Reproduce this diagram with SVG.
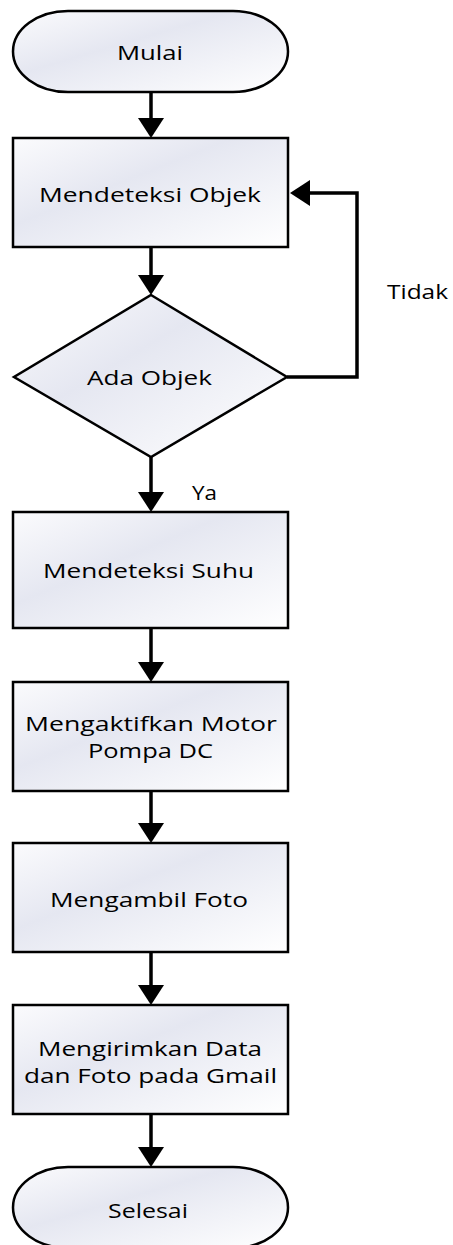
<svg xmlns="http://www.w3.org/2000/svg" width="453" height="1245" viewBox="0 0 453 1245">
<style>
.shape{fill:url(#g);stroke:#000;stroke-width:2.5}
.conn{fill:none;stroke:#000;stroke-width:3.5;marker-end:url(#ah)}
text{font-family:"Open Sans","DejaVu Sans",sans-serif;font-size:20.5px;fill:#000;text-anchor:middle}
</style>
<defs>
<linearGradient id="g" x1="0" y1="0" x2="1" y2="1">
<stop offset="0" stop-color="#fbfbfd"/>
<stop offset="0.4" stop-color="#e5e7f1"/>
<stop offset="1" stop-color="#ffffff"/>
</linearGradient>
<marker id="ah" viewBox="0 0 20 26" markerWidth="20" markerHeight="26" refX="0" refY="13" orient="auto" markerUnits="userSpaceOnUse">
<path d="M0,0 L20,13 L0,26 Z" fill="#000"/>
</marker>
</defs>
<g id="connectors">
<path class="conn" d="M151,92 V118"/>
<path class="conn" d="M151,247 V275"/>
<path class="conn" d="M151,457 V492"/>
<path class="conn" d="M151,628 V662"/>
<path class="conn" d="M151,791 V823"/>
<path class="conn" d="M151,952 V985"/>
<path class="conn" d="M151,1114 V1147"/>
<path class="conn" d="M287,377 H357 V193 H310"/>
<text x="417.5" y="299" textLength="61" lengthAdjust="spacingAndGlyphs">Tidak</text>
<text x="204.5" y="500" textLength="25" lengthAdjust="spacingAndGlyphs">Ya</text>
</g>
<g id="start">
<rect class="shape" x="13" y="11" width="275" height="81" rx="55" ry="40.5"/>
<text x="150" y="60" textLength="66" lengthAdjust="spacingAndGlyphs">Mulai</text>
</g>
<g id="detect-object">
<rect class="shape" x="13" y="138" width="275" height="109"/>
<text x="150" y="202" textLength="222" lengthAdjust="spacingAndGlyphs">Mendeteksi Objek</text>
</g>
<g id="decision">
<polygon class="shape" points="151,295 287,377 151,457 14,377"/>
<text x="149.5" y="385" textLength="125" lengthAdjust="spacingAndGlyphs">Ada Objek</text>
</g>
<g id="detect-temp">
<rect class="shape" x="13" y="512" width="275" height="116"/>
<text x="148.5" y="578" textLength="211" lengthAdjust="spacingAndGlyphs">Mendeteksi Suhu</text>
</g>
<g id="pump">
<rect class="shape" x="13" y="682" width="275" height="109"/>
<text x="151" y="731" textLength="252" lengthAdjust="spacingAndGlyphs">Mengaktifkan Motor</text>
<text x="150.5" y="758" textLength="125" lengthAdjust="spacingAndGlyphs">Pompa DC</text>
</g>
<g id="photo">
<rect class="shape" x="13" y="843" width="275" height="109"/>
<text x="149" y="907" textLength="198" lengthAdjust="spacingAndGlyphs">Mengambil Foto</text>
</g>
<g id="send">
<rect class="shape" x="13" y="1005" width="275" height="109"/>
<text x="150" y="1056" textLength="224" lengthAdjust="spacingAndGlyphs">Mengirimkan Data</text>
<text x="150.5" y="1083" textLength="253" lengthAdjust="spacingAndGlyphs">dan Foto pada Gmail</text>
</g>
<g id="end">
<rect class="shape" x="13" y="1167" width="275" height="81" rx="55" ry="40.5"/>
<text x="148" y="1218" textLength="80" lengthAdjust="spacingAndGlyphs">Selesai</text>
</g>
</svg>
